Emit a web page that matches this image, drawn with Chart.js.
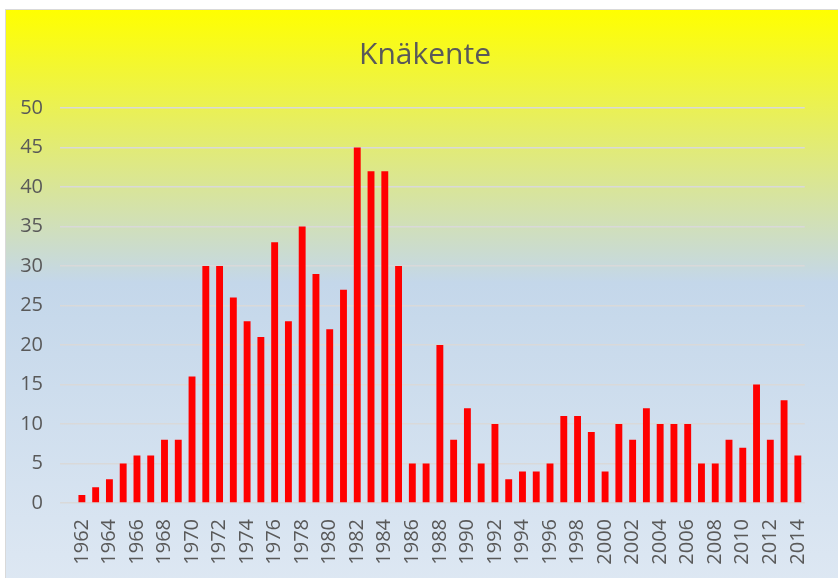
<!DOCTYPE html>
<html>
<head>
<meta charset="utf-8">
<script src="https://cdn.jsdelivr.net/npm/chart.js@4/dist/chart.umd.min.js"></script>
<style>
  html, body { margin: 0; padding: 0; background: #ffffff; width: 838px; height: 578px; overflow: hidden; }
  #bg {
    position: absolute; left: 5px; top: 9px; width: 840px; height: 580px;
    border-left: 1px solid #d9d9d9; border-top: 1px solid #d9d9d9;
    background: linear-gradient(to bottom, #ffff00 0%, #c4d7ea 47%, #dee8f3 100%);
  }
  #wrap { position: absolute; left: 0; top: 0; width: 838px; height: 578px; }
</style>
</head>
<body>
<div id="bg"></div>
<div id="wrap"><canvas id="c" width="838" height="578"></canvas></div>
<script>
const titleText = "Knäkente";
const years = [];
for (let y = 1962; y <= 2014; y++) years.push(String(y));
const counts = [
  1, 2, 3, 5, 6, 6, 8, 8, 16, 30,
  30, 26, 23, 21, 33, 23, 35, 29, 22, 27,
  45, 42, 42, 30, 5, 5, 20, 8, 12, 5,
  10, 3, 4, 4, 5, 11, 11, 9, 4, 10,
  8, 12, 10, 10, 10, 5, 5, 8, 7, 15,
  8, 13, 6
];
const yTicks = [0, 5, 10, 15, 20, 25, 30, 35, 40, 45, 50];

const textColor = "#595959";
const fontFamily = "'Open Sans', 'DejaVu Sans', sans-serif";

const titleShift = {
  id: "titleShift",
  afterLayout(chart) {
    const t = chart.titleBlock;
    if (t) { t.left += 11; t.right += 11; }
  }
};

new Chart(document.getElementById("c"), {
  type: "bar",
  data: {
    labels: years,
    datasets: [{
      data: counts,
      backgroundColor: "#ff0000",
      borderWidth: 0,
      barPercentage: 0.5,
      categoryPercentage: 1.0
    }]
  },
  plugins: [titleShift],
  options: {
    responsive: false,
    animation: false,
    devicePixelRatio: 1,
    layout: { padding: { left: 6, right: 16, top: 10, bottom: 0 } },
    plugins: {
      legend: { display: false },
      tooltip: { enabled: false },
      title: {
        display: true,
        text: titleText,
        color: textColor,
        font: { family: fontFamily, size: 30, weight: "normal" },
        padding: { top: 27, bottom: 35 }
      }
    },
    scales: {
      x: {
        grid: { display: false, drawTicks: false },
        border: { display: false },
        ticks: {
          autoSkip: false,
          maxRotation: 90,
          minRotation: 90,
          padding: 16,
          color: textColor,
          font: { family: fontFamily, size: 20 },
          callback: function (v, i) { return i % 2 === 0 ? years[i] : ""; }
        },
        afterFit: function (s) { s.height = 75; }
      },
      y: {
        min: 0,
        max: 50,
        afterBuildTicks: function (s) { s.ticks = yTicks.map(v => ({ value: v })); },
        grid: { color: "#d9d9d9", lineWidth: 1.5, drawTicks: true, tickLength: 15 },
        border: { display: false },
        ticks: {
          padding: 17,
          color: textColor,
          font: { family: fontFamily, size: 20 }
        },
        afterFit: function (s) { s.width = 69; }
      }
    }
  }
});
</script>
</body>
</html>
